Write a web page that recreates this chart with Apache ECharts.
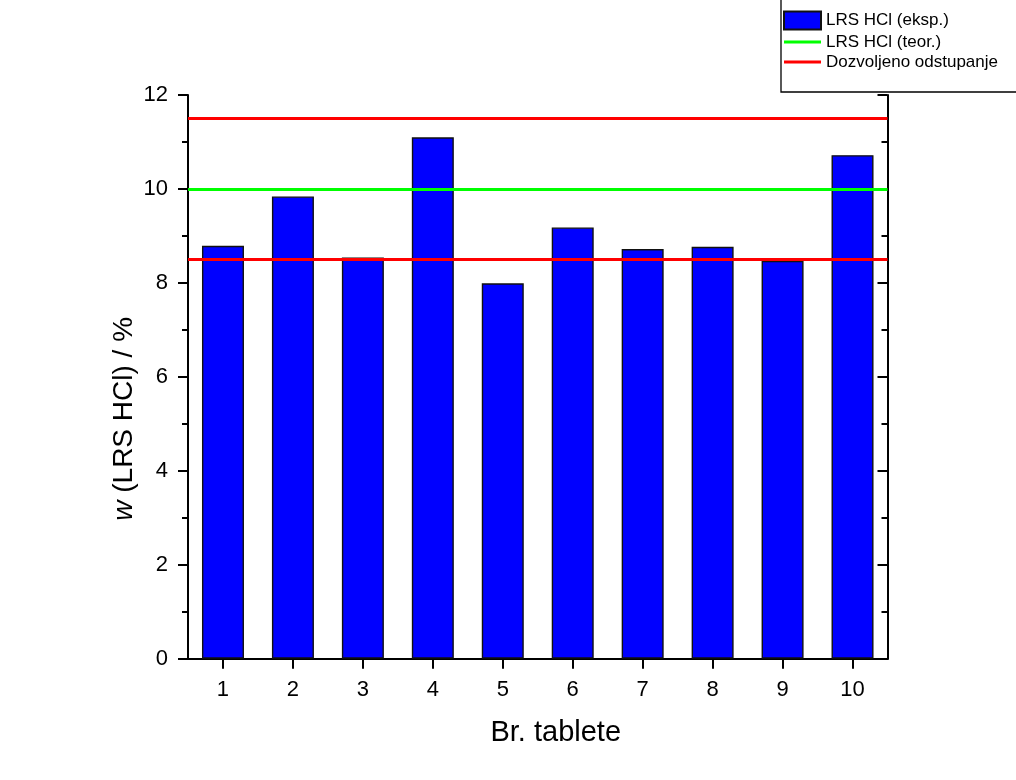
<!DOCTYPE html>
<html>
<head>
<meta charset="utf-8">
<script src="https://cdn.jsdelivr.net/npm/echarts@6/dist/echarts.min.js"></script>
<style>html,body{margin:0;padding:0;background:#fff;}#c{width:1016px;height:780px;}</style>
</head>
<body>
<div id="c"></div>
<script>
var categories = ['1','2','3','4','5','6','7','8','9','10'];
var experimental = [8.79, 9.84, 8.54, 11.10, 7.99, 9.18, 8.72, 8.77, 8.47, 10.72];
var theoretical = 10;
var allowedDeviation = [8.5, 11.5];
var yTicks = {min: 0, max: 12, interval: 2};

var FONT = 'Arial, "Liberation Sans", sans-serif';
var chart = echarts.init(document.getElementById('c'), null, {renderer: 'canvas'});

var lineBase = {symbol: 'none', silent: true, animation: false,
  label: {show: false}, emphasis: {disabled: true}};
var LINE_ICON = 'path://M0,0H40V3H0Z';

chart.setOption({
  backgroundColor: '#ffffff',
  animation: false,
  textStyle: {fontFamily: FONT},
  graphic: [{
    type: 'rect', z: 0, silent: true,
    shape: {x: 781, y: -10, width: 260, height: 102},
    style: {fill: '#ffffff', stroke: '#000000', lineWidth: 1.3}
  }],
  legend: {
    orient: 'vertical', left: 783, top: 10.5, padding: 0,
    itemWidth: 37, itemHeight: 18, itemGap: 3,
    symbolKeepAspect: true,
    textStyle: {fontFamily: FONT, fontSize: 17, color: '#000'},
    selectedMode: false,
    data: [
      {name: 'LRS HCl (eksp.)', icon: 'rect'},
      {name: 'LRS HCl (teor.)', icon: LINE_ICON},
      {name: 'Dozvoljeno odstupanje', icon: LINE_ICON}
    ]
  },
  grid: {left: 188, right: 128.5, top: 95, bottom: 121.3, containLabel: false},
  xAxis: [{
    type: 'category', data: categories, position: 'bottom',
    name: 'Br. tablete', nameLocation: 'middle', nameGap: 60, nameMoveOverlap: false,
    nameTextStyle: {fontFamily: FONT, fontSize: 29, color: '#000', padding: [0, 0, 0, 36]},
    axisLine: {lineStyle: {color: '#000', width: 2}},
    axisTick: {show: true, alignWithLabel: true, length: 10, lineStyle: {color: '#000', width: 2}},
    axisLabel: {fontFamily: FONT, fontSize: 22, color: '#000', margin: 20},
    splitLine: {show: false}
  }, {
    type: 'category', data: categories, position: 'top',
    axisLine: {lineStyle: {color: '#000', width: 2}},
    axisTick: {show: false}, axisLabel: {show: false}, splitLine: {show: false}
  }],
  yAxis: [{
    type: 'value', min: yTicks.min, max: yTicks.max, interval: yTicks.interval, position: 'left',
    name: '{i|w} (LRS HCl) / %', nameLocation: 'middle', nameGap: 50, nameMoveOverlap: false,
    nameTextStyle: {fontFamily: FONT, fontSize: 28, color: '#000', padding: [0, 84, 0, 0],
      rich: {i: {fontFamily: FONT, fontSize: 28, fontStyle: 'italic', color: '#000'}}},
    axisLine: {show: true, lineStyle: {color: '#000', width: 2}},
    axisTick: {show: true, length: 10, lineStyle: {color: '#000', width: 2}},
    minorTick: {show: true, splitNumber: 2, length: 6, lineStyle: {color: '#000', width: 2}},
    axisLabel: {fontFamily: FONT, fontSize: 22, color: '#000', margin: 20},
    splitLine: {show: false}
  }, {
    type: 'value', min: yTicks.min, max: yTicks.max, interval: yTicks.interval, position: 'right',
    axisLine: {show: true, lineStyle: {color: '#000', width: 2}},
    axisTick: {show: true, inside: true, length: 10, lineStyle: {color: '#000', width: 2}},
    minorTick: {show: true, splitNumber: 2, length: 6, lineStyle: {color: '#000', width: 2}},
    axisLabel: {show: false},
    splitLine: {show: false}
  }],
  series: [{
    name: 'LRS HCl (eksp.)', type: 'bar', data: experimental, barWidth: 42,
    itemStyle: {color: '#0000ff', borderColor: '#111111', borderWidth: 1.4},
    emphasis: {disabled: true}, z: 2
  }, Object.assign({}, lineBase, {
    name: 'LRS HCl (teor.)', type: 'line', data: [], z: 3,
    itemStyle: {color: '#00ff00'}, lineStyle: {color: '#00ff00', width: 3},
    markLine: {symbol: 'none', silent: true, animation: false, label: {show: false},
      lineStyle: {color: '#00ff00', width: 3, type: 'solid'},
      data: [{yAxis: theoretical}]}
  }), Object.assign({}, lineBase, {
    name: 'Dozvoljeno odstupanje', type: 'line', data: [], z: 3,
    itemStyle: {color: '#ff0000'}, lineStyle: {color: '#ff0000', width: 3},
    markLine: {symbol: 'none', silent: true, animation: false, label: {show: false},
      lineStyle: {color: '#ff0000', width: 3, type: 'solid'},
      data: allowedDeviation.map(function (v) { return {yAxis: v}; })}
  })]
});
</script>
</body>
</html>
